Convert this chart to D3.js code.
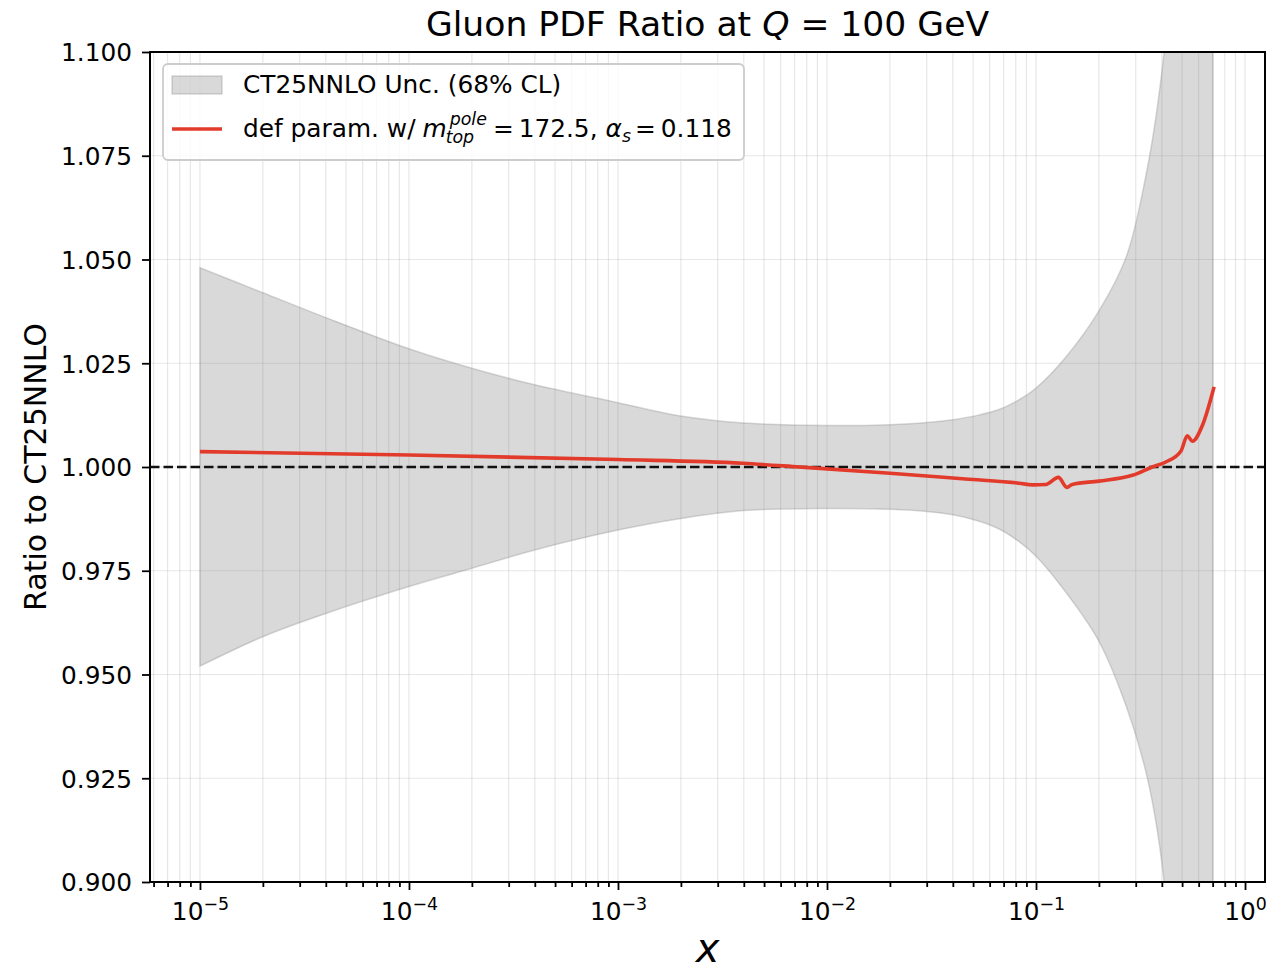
<!DOCTYPE html>
<html>
<head>
<meta charset="utf-8">
<script src="https://cdn.jsdelivr.net/npm/d3@7"></script>
<style>
  body { margin: 0; background: #fff; }
  text { font-family: "DejaVu Sans", sans-serif; fill: #000; }
</style>
</head>
<body>
<div id="chartCt"></div>
<script>
// uncertainty band (CT25NNLO, 68% CL)
const bandX = [1e-5, 2e-5, 4e-5, 1e-4, 2e-4, 4e-4, 1e-3, 2e-3, 4e-3, 1e-2, 2e-2,
  3e-2, 4e-2, 5.3e-2, 6.7e-2, 8.3e-2, 0.1, 0.139, 0.2, 0.27, 0.335, 0.388, 0.447, 0.56, 0.703];
const bandUpper = [1.048, 1.0420, 1.0360, 1.0285, 1.0238, 1.0198, 1.0155, 1.0123, 1.0106, 1.0100, 1.0102,
  1.0107, 1.0114, 1.0125, 1.0139, 1.0162, 1.0190, 1.0265, 1.0376, 1.0506, 1.070, 1.0898, 1.12, 1.20, 1.30];
const bandLower = [0.952, 0.9591, 0.9647, 0.9712, 0.9756, 0.9800, 0.9848, 0.9876, 0.9895, 0.9900, 0.9898,
  0.9893, 0.9885, 0.9870, 0.9850, 0.9820, 0.9785, 0.9698, 0.958, 0.9424, 0.9267, 0.9096, 0.88, 0.80, 0.70];

// def param. ratio curve
const lineX = [1e-5, 1e-4, 1e-3, 3.95e-3, 7.4e-3, 2e-2, 4.6e-2, 8.3e-2, 0.096, 0.1115, 0.128,
  0.1405, 0.149, 0.2, 0.289, 0.360, 0.418, 0.493, 0.53, 0.56, 0.625, 0.711];
const lineY = [1.0037, 1.0029, 1.0018, 1.0009, 1.0000, 0.9985, 0.9971, 0.9961, 0.9957, 0.9958, 0.9975,
  0.9951, 0.9958, 0.9966, 0.9980, 1.0000, 1.0012, 1.0038, 1.0075, 1.0062, 1.0100, 1.0193];

const yTicks = [0.900, 0.925, 0.950, 0.975, 1.000, 1.025, 1.050, 1.075, 1.100];
const xTicks = [1e-5, 1e-4, 1e-3, 1e-2, 1e-1, 1e0];
const xTickExp = ["\u22125", "\u22124", "\u22123", "\u22122", "\u22121", "0"];

const width = 1286, height = 971;
const pL = 150, pR = 1265, pT = 52, pB = 882;
const fs = 24.8, fsSmall = 17.4;

const svg = d3.select("#chartCt").append("svg")
  .attr("width", width).attr("height", height);

const x = d3.scaleLog()
  .domain([Math.pow(10, -5.239), Math.pow(10, 0.0956)])
  .range([pL, pR]);
const y = d3.scaleLinear().domain([0.9, 1.1]).range([pB, pT]);

// minor ticks 2..9 x 10^k inside domain
const minorTicks = [];
for (let k = -6; k <= 0; k++) {
  for (let m = 2; m <= 9; m++) {
    const v = m * Math.pow(10, k);
    if (v >= x.domain()[0] && v <= x.domain()[1]) minorTicks.push(v);
  }
}

svg.append("defs").append("clipPath").attr("id", "plotClip")
  .append("rect").attr("x", pL).attr("y", pT)
  .attr("width", pR - pL).attr("height", pB - pT);

// grid
const grid = svg.append("g");
grid.selectAll(".gx").data(xTicks.concat(minorTicks)).enter().append("line")
  .attr("x1", d => x(d)).attr("x2", d => x(d))
  .attr("y1", pT).attr("y2", pB)
  .attr("stroke", "#b0b0b0").attr("stroke-opacity", 0.3).attr("stroke-width", 1.2);
grid.selectAll(".gy").data(yTicks).enter().append("line")
  .attr("x1", pL).attr("x2", pR)
  .attr("y1", d => y(d)).attr("y2", d => y(d))
  .attr("stroke", "#b0b0b0").attr("stroke-opacity", 0.3).attr("stroke-width", 1.2);

const plot = svg.append("g").attr("clip-path", "url(#plotClip)");

// band
const bandData = bandX.map((v, i) => ({ x: v, lo: bandLower[i], hi: bandUpper[i] }));
const area = d3.area()
  .x(d => x(d.x)).y0(d => y(d.lo)).y1(d => y(d.hi))
  .curve(d3.curveCatmullRom.alpha(0.5));
plot.append("path").datum(bandData)
  .attr("d", area)
  .attr("fill", "gray").attr("fill-opacity", 0.3)
  .attr("stroke", "gray").attr("stroke-opacity", 0.3).attr("stroke-width", 1.5);

// reference line at 1
plot.append("line")
  .attr("x1", pL).attr("x2", pR)
  .attr("y1", y(1)).attr("y2", y(1))
  .attr("stroke", "#111").attr("stroke-width", 2.4)
  .attr("stroke-dasharray", "9.5,4");

// ratio curve
const lineData = lineX.map((v, i) => ({ x: v, y: lineY[i] }));
const line = d3.line().x(d => x(d.x)).y(d => y(d.y)).curve(d3.curveMonotoneX);
plot.append("path").datum(lineData)
  .attr("d", line)
  .attr("fill", "none").attr("stroke", "#e23b2b")
  .attr("stroke-width", 3.6).attr("stroke-linejoin", "round");

// axes
const xAxis = svg.append("g").attr("transform", `translate(0,${pB})`)
  .call(d3.axisBottom(x).tickValues(xTicks).tickSize(8).tickPadding(8).tickFormat(""));
xAxis.selectAll(".tick text").remove();
xAxis.selectAll(".tick").append("text")
  .attr("y", 38).attr("text-anchor", "middle")
  .style("font-size", fs + "px")
  .each(function (d, i) {
    const t = d3.select(this);
    t.append("tspan").text("10");
    t.append("tspan").attr("dy", -10).style("font-size", fsSmall + "px").text(xTickExp[i]);
  });
svg.append("g").attr("transform", `translate(0,${pB})`)
  .call(d3.axisBottom(x).tickValues(minorTicks).tickSize(5).tickFormat(""))
  .call(g => g.select(".domain").remove());

const yAxis = svg.append("g").attr("transform", `translate(${pL},0)`)
  .call(d3.axisLeft(y).tickValues(yTicks).tickSize(8).tickPadding(10).tickFormat(d3.format(".3f")));
yAxis.selectAll(".tick text").style("font-size", fs + "px").attr("dy", "0.36em");

svg.selectAll(".domain").remove();
svg.selectAll(".tick line").attr("stroke", "#000").attr("stroke-width", 1.8);

// frame
svg.append("rect").attr("x", pL).attr("y", pT)
  .attr("width", pR - pL).attr("height", pB - pT)
  .attr("fill", "none").attr("stroke", "#000").attr("stroke-width", 2);

// title and labels
const title = svg.append("text").attr("x", (pL + pR) / 2).attr("y", 36)
  .attr("text-anchor", "middle").style("font-size", "34.6px");
title.append("tspan").text("Gluon PDF Ratio at ");
title.append("tspan").style("font-style", "italic").text("Q");
title.append("tspan").text(" = 100 GeV");

svg.append("text")
  .attr("transform", `translate(46,${(pT + pB) / 2}) rotate(-90)`)
  .attr("text-anchor", "middle").style("font-size", "30px")
  .text("Ratio to CT25NNLO");

svg.append("text").attr("x", (pL + pR) / 2).attr("y", 962)
  .attr("text-anchor", "middle").style("font-size", "40px").style("font-style", "italic")
  .text("x");

// legend
const lg = svg.append("g");
lg.append("rect").attr("x", 163).attr("y", 64).attr("width", 581).attr("height", 96)
  .attr("rx", 5).attr("fill", "#fff").attr("fill-opacity", 0.8)
  .attr("stroke", "#ccc").attr("stroke-width", 1.8);
lg.append("rect").attr("x", 172).attr("y", 76).attr("width", 50).attr("height", 18)
  .attr("fill", "gray").attr("fill-opacity", 0.3)
  .attr("stroke", "gray").attr("stroke-opacity", 0.3).attr("stroke-width", 1.5);
lg.append("line").attr("x1", 172).attr("x2", 222).attr("y1", 129).attr("y2", 129)
  .attr("stroke", "#e23b2b").attr("stroke-width", 3.6);
lg.append("text").attr("x", 243).attr("y", 93).style("font-size", fs + "px")
  .text("CT25NNLO Unc. (68% CL)");

// rich legend label (mathtext-like pieces laid out in sequence)
const by = 137;
let cx = 243;
function piece(str, size, italic, dy) {
  const t = lg.append("text").attr("x", cx).attr("y", by + (dy || 0))
    .style("font-size", size + "px")
    .style("font-style", italic ? "italic" : "normal")
    .text(str);
  return t.node().getComputedTextLength();
}
cx += piece("def param. w/", fs, false) + 7;
cx += piece("m", fs, true) + 1;
const scr = lg.append("text").attr("y", by)
  .style("font-size", fsSmall + "px").style("font-style", "italic");
const sup = scr.append("tspan").attr("x", cx + 2).attr("dy", -12).text("pole");
const sub = scr.append("tspan").attr("x", cx - 2).attr("dy", 18).text("top");
cx += Math.max(sup.node().getComputedTextLength() + 2, sub.node().getComputedTextLength() - 2) + 6;
cx += piece("=", fs, false) + 5;
cx += piece("172.5,", fs, false) + 8;
cx += piece("\u03b1", fs, true);
cx += piece("s", fsSmall, true, 5) + 4;
cx += piece("=", fs, false) + 5;
piece("0.118", fs, false);
</script>
</body>
</html>
